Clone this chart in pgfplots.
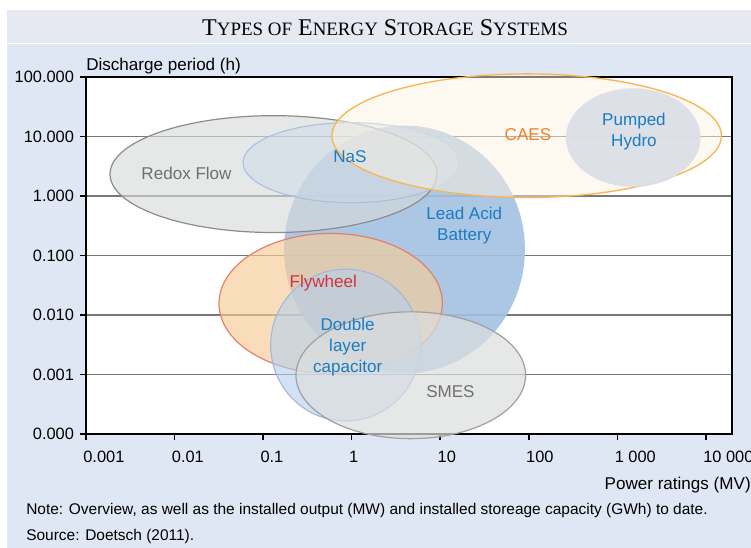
\documentclass[border=0pt]{standalone}
\usepackage{fontspec}
\setmainfont{Liberation Sans}
\newfontfamily\titlefont{Liberation Serif}
\usepackage{pgfplots}
\pgfplotsset{compat=1.18}

\definecolor{bgbody}{HTML}{E0E7F4}
\definecolor{bgtitle}{HTML}{E6E9F1}
\definecolor{lblue}{HTML}{1A7CC1}
\definecolor{lgray}{HTML}{707070}
\definecolor{lorange}{HTML}{F07F2A}
\definecolor{lred}{HTML}{D0343A}
\definecolor{gridgray}{HTML}{777777}
\definecolor{leadfill}{HTML}{A4C2E2}
\definecolor{redoxfill}{HTML}{D8DADA}
\definecolor{redoxline}{HTML}{8C8C8C}
\definecolor{nasfill}{HTML}{C9D7EA}
\definecolor{nasline}{HTML}{A8C0DC}
\definecolor{caesfill}{HTML}{FCF2E2}
\definecolor{caesline}{HTML}{F6B655}
\definecolor{pumpfill}{HTML}{DCDFE7}
\definecolor{flyfill}{HTML}{F6CC98}
\definecolor{flyline}{HTML}{E0826A}
\definecolor{dlcfill}{HTML}{B4D0EE}
\definecolor{dlcline}{HTML}{A6B6D8}
\definecolor{smesfill}{HTML}{DCDEDE}
\definecolor{smesline}{HTML}{A0A0A0}

% ellipse: centre (log10 MW, log10 h), radii in decades
\newcommand{\storage}[5]{\draw[#5] (axis cs:#1,#2) ellipse [x radius=#3, y radius=#4];}

\begin{document}
\begin{tikzpicture}
\useasboundingbox (0pt,0pt) rectangle (563.25pt,411pt);
\clip (0pt,0pt) rectangle (563.25pt,411pt);
\begin{scope}[x=0.75pt,y=0.75pt]
\fill[white] (0,0) rectangle (751,548);
\fill[bgtitle] (7,505) rectangle (751,538);
\fill[bgbody] (7,0) rectangle (751,504);
\end{scope}
\begin{axis}[
  at={(64.5pt,85.5pt)}, anchor=south west,
  scale only axis, width=484.5pt, height=267.75pt,
  xmin=-3, xmax=4.294, ymin=-4, ymax=2,
  clip=false,
  axis background/.style={fill=white},
  axis line style={black, line width=1.5pt},
  tick style={black, line width=1.2pt},
  major tick length=4.5pt,
  tick align=outside,
  xtick pos=bottom, ytick pos=left,
  xtick={-3,-2,-1,0,1,2,3,4},
  xticklabels={0.001,0.01,0.1,1,10,100,1 000,10 000},
  ytick={-4,-3,-2,-1,0,1,2},
  yticklabels={0.000,0.001,0.010,0.100,1.000,10.000,100.000},
  ymajorgrids,
  major grid style={gridgray, line width=1.2pt},
  ticklabel style={font=\fontsize{12.3}{14}\selectfont},
  xticklabel style={anchor=north west, xshift=-5.5pt, yshift=-5pt},
  yticklabel style={anchor=east, xshift=-1pt},
]
% Lead acid battery
\storage{0.596}{-0.899}{1.360}{2.083}{fill=leadfill, fill opacity=0.9, draw=none}
% Redox flow
\storage{-0.883}{0.368}{1.846}{0.982}{fill=redoxfill, fill opacity=0.62, draw=redoxline, line width=0.9pt}
% NaS
\storage{-0.008}{0.560}{1.219}{0.673}{fill=nasfill, fill opacity=0.45, draw=nasline, line width=0.8pt}
% CAES
\storage{1.976}{1.013}{2.199}{1.039}{fill=caesfill, fill opacity=0.5, draw=caesline, line width=1pt}
% Pumped hydro
\storage{3.179}{0.982}{0.760}{0.828}{fill=pumpfill, fill opacity=0.95, draw=none}
% Flywheel
\storage{-0.237}{-1.806}{1.261}{1.177}{fill=flyfill, fill opacity=0.65, draw=flyline, line width=0.9pt}
% Double layer capacitor
\storage{-0.068}{-2.506}{0.847}{1.276}{fill=dlcfill, fill opacity=0.6, draw=dlcline, line width=0.8pt}
% SMES
\storage{0.667}{-3.013}{1.296}{1.066}{fill=smesfill, fill opacity=0.7, draw=smesline, line width=0.9pt}

\begin{scope}[every node/.style={font=\fontsize{12.8}{15.5}\selectfont, align=center, inner sep=0pt}]
\node[text=lgray] at (axis cs:-1.865,0.384) {Redox Flow};
\node[text=lblue] at (axis cs:-0.019,0.658) {NaS};
\node[text=lorange] at (axis cs:1.990,1.024) {CAES};
\node[text=lblue] at (axis cs:3.187,1.083) {Pumped\\Hydro};
\node[text=lblue] at (axis cs:1.271,-0.500) {Lead Acid\\Battery};
\node[text=lred] at (axis cs:-0.321,-1.456) {Flywheel};
\node[text=lblue] at (axis cs:-0.045,-2.542) {Double\\layer\\capacitor};
\node[text=lgray] at (axis cs:1.115,-3.286) {SMES};
\end{scope}
\end{axis}

\begin{scope}[x=0.75pt,y=0.75pt]
\node[inner sep=0pt, font=\titlefont\fontsize{18}{20}\selectfont] at (385,520)
  {T{\fontsize{14.2}{15}\selectfont YPES OF} E{\fontsize{14.2}{15}\selectfont NERGY} S{\fontsize{14.2}{15}\selectfont TORAGE} S{\fontsize{14.2}{15}\selectfont YSTEMS}};
\node[inner sep=0pt, anchor=west, font=\fontsize{12.8}{14}\selectfont] at (86,482) {Discharge period (h)};
\node[inner sep=0pt, anchor=east, font=\fontsize{12.8}{14}\selectfont] at (751,63) {Power ratings (MV)};
\node[inner sep=0pt, anchor=west, font=\fontsize{11.6}{13}\selectfont] at (26,37) {Note: Overview, as well as the installed output (MW) and installed storeage capacity (GWh) to date.};
\node[inner sep=0pt, anchor=west, font=\fontsize{11.6}{13}\selectfont] at (26,11) {Source: Doetsch (2011).};
\end{scope}
\end{tikzpicture}
\end{document}
